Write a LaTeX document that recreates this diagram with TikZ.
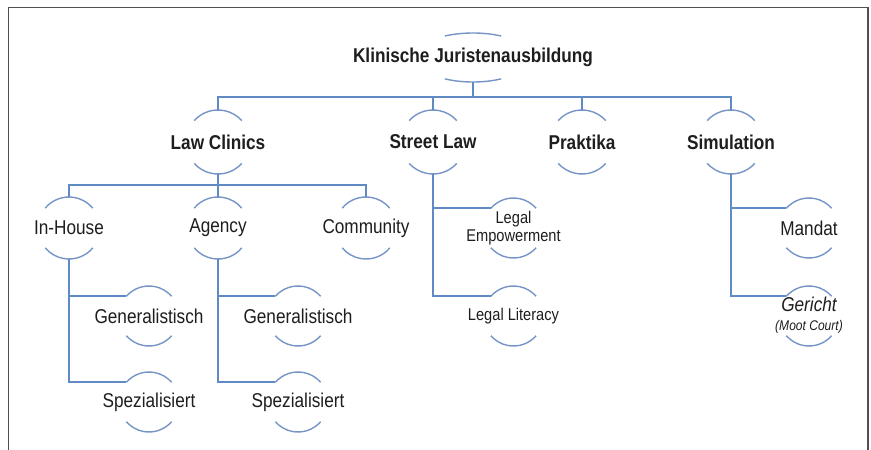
\documentclass[tikz,border=0pt]{standalone}
\usepackage{fontspec}
\setmainfont{Liberation Sans}[FakeStretch=0.86]
\usetikzlibrary{calc}
\definecolor{connblue}{RGB}{96,138,196}
\definecolor{arcblue}{RGB}{118,148,198}
\definecolor{txt}{RGB}{30,30,30}
\definecolor{framegray}{RGB}{80,80,80}
\tikzset{
  conn/.style={draw=connblue, line width=1.8pt},
  arcline/.style={draw=arcblue, line width=1.4pt},
  lbl/.style={inner sep=0pt, text=txt, font=\fontsize{20}{22}\selectfont},
  boldlbl/.style={inner sep=0pt, text=txt, font=\fontsize{20}{22}\selectfont\bfseries},
  smalllbl/.style={inner sep=0pt, text=txt, align=center, font=\fontsize{17}{18}\selectfont},
}
\newcommand\capsarcs[3]{%
  \coordinate (#1-t) at ([shift={(270:#2)}]#1.center);
  \coordinate (#1-b) at ([shift={(90:#2)}]#1.center);
  \coordinate (#1-l) at ([shift={(270-#3:#2)}]#1.center);
  \draw[arcline] (#1-l) arc[start angle=270-#3, end angle=270+#3, radius=#2];
  \draw[arcline] ([shift={(90-#3:#2)}]#1.center) arc[start angle=90-#3, end angle=90+#3, radius=#2];
}
\begin{document}
\begin{tikzpicture}[x=1pt,y=-1pt]
\useasboundingbox (0,0) rectangle (871,450);
\fill[white] (0,0) rectangle (871,450);
% frame
\draw[framegray, line width=1.8pt] (8.5,450) -- (8.5,7.5) -- (868,7.5) -- (868,450);

% root
\node[boldlbl] (root) at (473,57) {Klinische Juristenausbildung};
\draw[arcline] ([shift={(241:58 and 24)}]root.center) arc[start angle=241, end angle=299, x radius=58, y radius=24];
\draw[arcline] ([shift={(61:58 and 25)}]root.center) arc[start angle=61, end angle=119, x radius=58, y radius=25];
\coordinate (root-b) at ([shift={(90:25)}]root.center);

% level 1
\node[boldlbl] (lc) at (218,142) {Law Clinics};
\node[boldlbl] (sl) at (433,142) {Street Law};
\node[boldlbl] (pr) at (582,142) {Praktika};
\node[boldlbl] (sim) at (731,142) {Simulation};
\capsarcs{lc}{32}{48}
\capsarcs{sl}{32}{48}
\capsarcs{pr}{32}{48}
\capsarcs{sim}{32}{48}

% level 2 (law clinics)
\node[lbl] (ih) at (69,228) {In-House};
\node[lbl] (ag) at (218,228) {Agency};
\node[lbl] (co) at (366,228) {Community};
\capsarcs{ih}{31}{50}
\capsarcs{ag}{31}{50}
\capsarcs{co}{31}{50}

% level 3
\node[lbl] (ge1) at (149,316) {Generalistisch};
\node[lbl] (sp1) at (149,402) {Spezialisiert};
\node[lbl] (ge2) at (298,316) {Generalistisch};
\node[lbl] (sp2) at (298,402) {Spezialisiert};
\capsarcs{ge1}{30}{49}
\capsarcs{sp1}{30}{49}
\capsarcs{ge2}{30}{49}
\capsarcs{sp2}{30}{49}

% street law children
\node[smalllbl] (le) at (513.5,228) {Legal\\Empowerment};
\node[smalllbl] (ll) at (513.5,316) {Legal Literacy};
\capsarcs{le}{30}{49}
\capsarcs{ll}{30}{49}

% simulation children
\node[lbl] (ma) at (809,228) {Mandat};
\coordinate (gc) at (809,316);
\node[lbl, font=\fontsize{20}{22}\selectfont\itshape] (gct) at (809,304) {Gericht};
\node[lbl, font=\fontsize{14}{16}\selectfont\itshape] (mct) at (809,327) {(Moot Court)};
\capsarcs{ma}{30}{49}
\capsarcs{gc}{30}{49}

% connectors
\coordinate (bar) at (0,97);
\coordinate (bar2) at (0,185);
\draw[conn] (root-b) -- (root-b |- bar);
\draw[conn] (lc-t) |- (sim-t |- bar) -- (sim-t);
\draw[conn] (sl-t) -- (sl-t |- bar);
\draw[conn] (pr-t) -- (pr-t |- bar);

\draw[conn] (lc-b) -- (lc-b |- bar2);
\draw[conn] (ih-t) |- (co-t |- bar2) -- (co-t);
\draw[conn] (ag-t) -- (ag-t |- bar2);

\draw[conn] (ih-b) |- (sp1-l);
\draw[conn] (ih-b |- ge1-l) -- (ge1-l);
\draw[conn] (ag-b) |- (sp2-l);
\draw[conn] (ag-b |- ge2-l) -- (ge2-l);

\draw[conn] (sl-b) |- (ll-l);
\draw[conn] (sl-b |- le-l) -- (le-l);
\draw[conn] (sim-b) |- (gc-l);
\draw[conn] (sim-b |- ma-l) -- (ma-l);
\end{tikzpicture}
\end{document}
